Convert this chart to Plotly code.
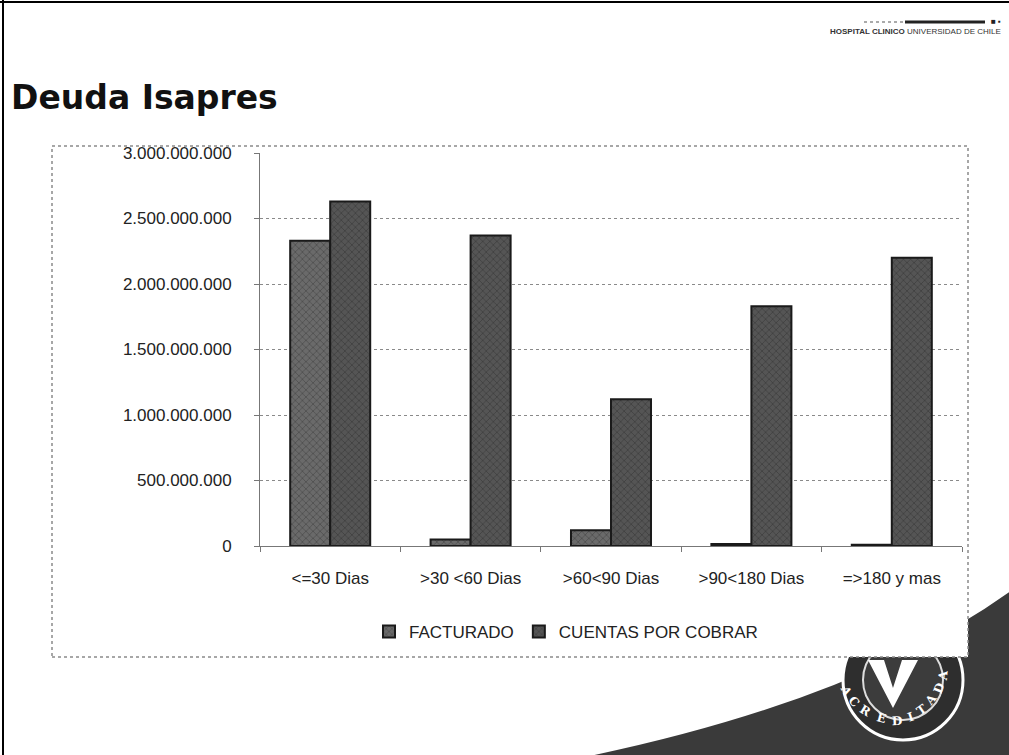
import math
import plotly.graph_objects as go

# ----------------------------------------------------------
# DATA
# ----------------------------------------------------------

categories = ["<=30 Dias", ">30 <60 Dias", ">60<90 Dias", ">90<180 Dias", "=>180 y mas"]

facturado = [2330000000, 50000000, 120000000, 15000000, 10000000]

cuentas_por_cobrar = [2630000000, 2370000000, 1120000000, 1830000000, 2200000000]

y_ticks = [0, 500000000, 1000000000, 1500000000, 2000000000, 2500000000, 3000000000]

# ----------------------------------------------------------
# LAYOUT HELPERS (slide pixels -> paper coords)
# ----------------------------------------------------------

W, H = 1009, 755
L, R, T, B = 260, 47, 153, 209
PW = W - L - R
PH = H - T - B


def px(x):
    return (x - L) / PW


def py(y):
    return (H - B - y) / PH


FONT = "Liberation Sans"

fig = go.Figure()

fig.add_trace(
    go.Bar(
        x=categories,
        y=facturado,
        name="FACTURADO",
        marker=dict(
            color="#6a6a6a",
            line=dict(color="#1a1a1a", width=2),
            pattern=dict(shape="x", fgcolor="#333333", size=5, solidity=0.3)
        )
    )
)

fig.add_trace(
    go.Bar(
        x=categories,
        y=cuentas_por_cobrar,
        name="CUENTAS POR COBRAR",
        marker=dict(
            color="#555555",
            line=dict(color="#1a1a1a", width=2),
            pattern=dict(shape="x", fgcolor="#2a2a2a", size=5, solidity=0.3)
        )
    )
)

shapes = []

# dark swoosh bottom right
shapes.append(dict(
    type="path", xref="paper", yref="paper", layer="below",
    path="M %f,%f Q %f,%f %f,%f L %f,%f Z" % (
        px(585), py(757), px(860), py(700), px(1012), py(590), px(1012), py(757)),
    fillcolor="#3a3a3a", line=dict(width=0)
))

# accreditation seal
cx, cy, r = 903, 680, 60
shapes.append(dict(
    type="circle", xref="paper", yref="paper", layer="below",
    x0=px(cx - r), x1=px(cx + r), y0=py(cy + r), y1=py(cy - r),
    fillcolor="#2e2e2e", line=dict(color="white", width=3)
))
shapes.append(dict(
    type="circle", xref="paper", yref="paper", layer="below",
    x0=px(cx - 40), x1=px(cx + 40), y0=py(cy + 40), y1=py(cy - 40),
    fillcolor="#3c3c3c", line=dict(color="#dddddd", width=2)
))
shapes.append(dict(
    type="path", xref="paper", yref="paper", layer="below",
    path="M %f,%f L %f,%f L %f,%f L %f,%f L %f,%f L %f,%f Z" % (
        px(868), py(660), px(884), py(660), px(893), py(688),
        px(902), py(660), px(918), py(660), px(893), py(708)),
    fillcolor="white", line=dict(width=0)
))

# white chart box with dotted border
shapes.append(dict(
    type="rect", xref="paper", yref="paper", layer="below",
    x0=px(52), x1=px(968), y0=py(657), y1=py(146),
    fillcolor="white", line=dict(color="#8a8a8a", width=1.5, dash="dot")
))

# slide border
shapes.append(dict(
    type="line", xref="paper", yref="paper",
    x0=px(0), x1=px(1009), y0=py(2), y1=py(2),
    line=dict(color="black", width=2)
))
shapes.append(dict(
    type="line", xref="paper", yref="paper",
    x0=px(3), x1=px(3), y0=py(0), y1=py(755),
    line=dict(color="black", width=2)
))

# hospital logo bar
shapes.append(dict(
    type="line", xref="paper", yref="paper",
    x0=px(905), x1=px(985), y0=py(22), y1=py(22),
    line=dict(color="#222222", width=3)
))
shapes.append(dict(
    type="line", xref="paper", yref="paper",
    x0=px(864), x1=px(905), y0=py(22), y1=py(22),
    line=dict(color="#aaaaaa", width=2, dash="dot")
))

annotations = [
    dict(
        text="<b>Deuda Isapres</b>", xref="paper", yref="paper",
        x=px(9), y=py(97), xanchor="left", yanchor="middle", showarrow=False,
        font=dict(family="DejaVu Sans", size=33, color="#111111")
    ),
    dict(
        text="<b>HOSPITAL CLINICO</b> UNIVERSIDAD DE CHILE", xref="paper", yref="paper",
        x=px(1003), y=py(32), xanchor="right", yanchor="middle", showarrow=False,
        font=dict(family=FONT, size=8, color="#333333")
    ),
    dict(
        text="<b>■ ▪</b>", xref="paper", yref="paper",
        x=px(1003), y=py(21), xanchor="right", yanchor="middle", showarrow=False,
        font=dict(family=FONT, size=8, color="#222222")
    ),
]

# seal lettering along the lower arc
word = "ACREDITADA"
for i, ch in enumerate(word):
    theta = 155 - i * (150 / (len(word) - 1))
    rad = math.radians(theta)
    annotations.append(dict(
        text="<b>%s</b>" % ch, xref="paper", yref="paper",
        x=px(cx + 50 * math.cos(rad)), y=py(cy + 50 * math.sin(rad)),
        showarrow=False, textangle=theta - 90,
        font=dict(family="DejaVu Serif", size=12, color="white")
    ))

fig.update_layout(
    width=W,
    height=H,
    margin=dict(l=L, r=R, t=T, b=B, pad=0),
    paper_bgcolor="white",
    plot_bgcolor="rgba(0,0,0,0)",
    separators=",.",
    barmode="group",
    bargap=0.43,
    bargroupgap=0,
    showlegend=True,
    legend=dict(
        orientation="h",
        x=px(566), y=py(632),
        xanchor="center", yanchor="middle",
        font=dict(family=FONT, size=17, color="#222222"),
        bgcolor="rgba(0,0,0,0)",
        itemwidth=30,
        traceorder="normal"
    ),
    shapes=shapes,
    annotations=annotations,
    xaxis=dict(
        showline=True,
        linecolor="#777777",
        linewidth=1,
        ticks="outside",
        tickson="boundaries",
        ticklen=5,
        tickcolor="#777777",
        tickangle=0,
        ticklabelstandoff=17,
        tickfont=dict(family=FONT, size=17, color="#222222"),
        showgrid=False
    ),
    yaxis=dict(
        range=[0, 3000000000],
        tickvals=y_ticks,
        tickformat=",d",
        showline=True,
        linecolor="#777777",
        linewidth=1,
        ticks="outside",
        ticklen=5,
        tickcolor="#777777",
        ticklabelstandoff=19,
        tickfont=dict(family=FONT, size=17, color="#222222"),
        showgrid=True,
        gridcolor="#8a8a8a",
        griddash="dot",
        gridwidth=1,
        zeroline=False
    )
)

fig.write_html(
    "out.html",
    config={"displayModeBar": False},
    post_script="document.body.style.margin='0';document.body.style.overflow='hidden';"
)
